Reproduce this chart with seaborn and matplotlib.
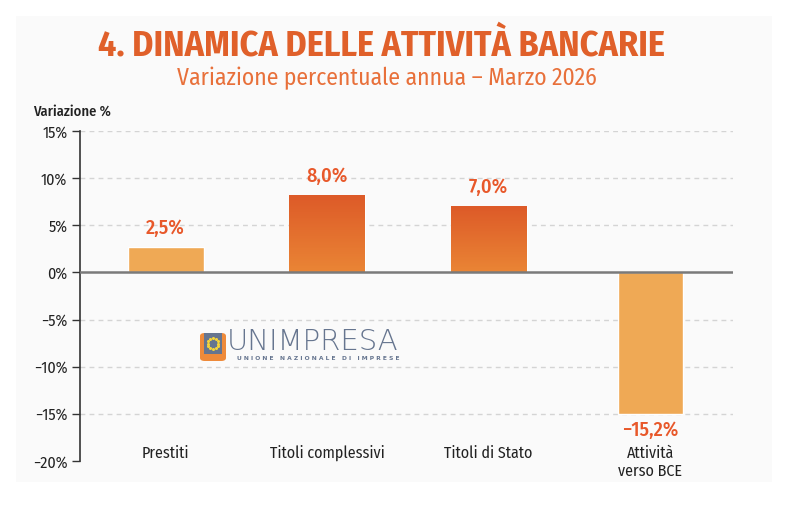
import numpy as np
import pandas as pd
import matplotlib
matplotlib.use("Agg")
import matplotlib.pyplot as plt
import seaborn as sns
from matplotlib import font_manager
from matplotlib.patches import FancyBboxPatch, Rectangle

# Data (bar heights as drawn in the picture, labels as printed)
categories = ["Prestiti", "Titoli complessivi", "Titoli di Stato", "Attività\nverso BCE"]
values = [2.7, 8.2, 7.0, -15.0]
value_labels = ["2,5%", "8,0%", "7,0%", "\u221215,2%"]
y_ticks = [15, 10, 5, 0, -5, -10, -15, -20]
y_tick_labels = ["15%", "10%", "5%", "0%", "\u22125%", "\u221210%", "\u221215%", "\u221220%"]

df = pd.DataFrame({"categoria": categories, "valore": values})

sns.set_theme(style="white")
names = {f.name for f in font_manager.fontManager.ttflist}
base_font = "DejaVu Sans"
for cand in ["Fira Sans Condensed", "Barlow Semi Condensed", "Archivo Narrow", "Liberation Sans Narrow"]:
    if cand in names:
        base_font = cand
        break
plt.rcParams["font.family"] = [base_font, "DejaVu Sans"]

light_orange = "#EFA955"
title_orange = "#E0602A"
label_orange = "#E8582A"
logo_blue = "#66758F"

fig = plt.figure(figsize=(7.92, 5.18), dpi=100, facecolor="white")
fig.patches.append(Rectangle((0.02, 0.07), 0.955, 0.90, transform=fig.transFigure,
                             facecolor="#FAFAFA", edgecolor="none", zorder=-5))
ax = fig.add_axes([0.101, 0.110, 0.824, 0.637])
ax.set_facecolor("none")

sns.barplot(data=df, x="categoria", y="valore", color=light_orange, width=0.47,
            saturation=1, ax=ax, zorder=3)

# gradient fill for the two "Titoli" bars
grad = np.linspace(0, 1, 256).reshape(-1, 1)
cmap = matplotlib.colors.LinearSegmentedColormap.from_list("g", ["#EA8535", "#DD5A28"])
for i in [1, 2]:
    p = ax.patches[i]
    x0, y0 = p.get_x(), p.get_y()
    w, h = p.get_width(), p.get_height()
    im = ax.imshow(grad, extent=[x0, x0 + w, y0, y0 + h], origin="lower",
                   cmap=cmap, aspect="auto", zorder=3)
    im.set_clip_path(p)
    p.set_facecolor("none")

# last bar is a little narrower in the original
p = ax.patches[3]
cx = p.get_x() + p.get_width() / 2
p.set_width(0.40)
p.set_x(cx - 0.20)

ax.set_xlim(-0.53, 3.51)
ax.set_ylim(-20, 15)
ax.set_yticks(y_ticks)
ax.set_yticklabels(y_tick_labels, fontsize=11.5, color="#222222")
ax.set_xticks([])
ax.set_xlabel("")
ax.set_ylabel("")
for s in ["top", "right", "bottom"]:
    ax.spines[s].set_visible(False)
ax.spines["left"].set_color("#333333")
ax.spines["left"].set_linewidth(1.2)
ax.tick_params(axis="y", direction="out", length=6, width=1, color="#333333", pad=3, left=True)

for t in y_ticks:
    if t == 0:
        ax.axhline(0, color="#7A7A7A", lw=1.8, zorder=4)
    elif t != -20:
        ax.axhline(t, color="#D4D4D4", lw=1, ls=(0, (3.5, 3)), zorder=1)

# value labels
for i, (v, lab) in enumerate(zip(values, value_labels)):
    off = 2.0 if v > 0 else -1.7
    ax.text(i, v + off, lab, ha="center", va="center",
            fontsize=14.5, fontweight="medium", color=label_orange, zorder=5)

# category labels inside the plot at the bottom
for i, c in enumerate(categories):
    ax.text(i, -18.3, c, ha="center", va="top", fontsize=11.5, color="#222222",
            linespacing=1.2)

fig.text(0.481, 0.911, "4. DINAMICA DELLE ATTIVITÀ BANCARIE", ha="center", va="center",
         fontsize=25.8, fontweight="bold", color=title_orange)
fig.text(0.489, 0.849, "Variazione percentuale annua \u2013 Marzo 2026", ha="center", va="center",
         fontsize=17, color="#E8703A")
fig.text(0.042, 0.785, "Variazione %", ha="left", va="center", fontsize=10.5,
         fontweight="medium", color="#222222")

# logo
fig.patches.append(FancyBboxPatch((200 / 792, 1 - 361 / 518), 26 / 792, 28 / 518,
                                  boxstyle="round,pad=0,rounding_size=0.006",
                                  transform=fig.transFigure, facecolor="#EE8A3A",
                                  edgecolor="none", zorder=5))
fig.patches.append(Rectangle((204 / 792, 1 - 354 / 518), 18 / 792, 21 / 518,
                             transform=fig.transFigure, facecolor=logo_blue,
                             edgecolor="none", zorder=6))
ang = np.linspace(0, 2 * np.pi, 12, endpoint=False)
fig.add_artist(plt.Line2D(213 / 792 + 5.5 / 792 * np.cos(ang),
                          1 - 343.5 / 518 + 5.5 / 518 * np.sin(ang),
                          transform=fig.transFigure, ls="none", marker="o",
                          ms=1.2, color="#F5D43A", zorder=7))
fig.text(227 / 792, 1 - 342 / 518, "UNIMPRESA", ha="left", va="center",
         fontsize=21, color=logo_blue, family="DejaVu Sans", fontweight="light")
fig.text(237 / 792, 1 - 358 / 518, "U N I O N E   N A Z I O N A L E   D I   I M P R E S E",
         ha="left", va="center", fontsize=4.3, color=logo_blue, family="DejaVu Sans",
         fontweight="bold")

fig.savefig("out.png", dpi=100, facecolor="white")
